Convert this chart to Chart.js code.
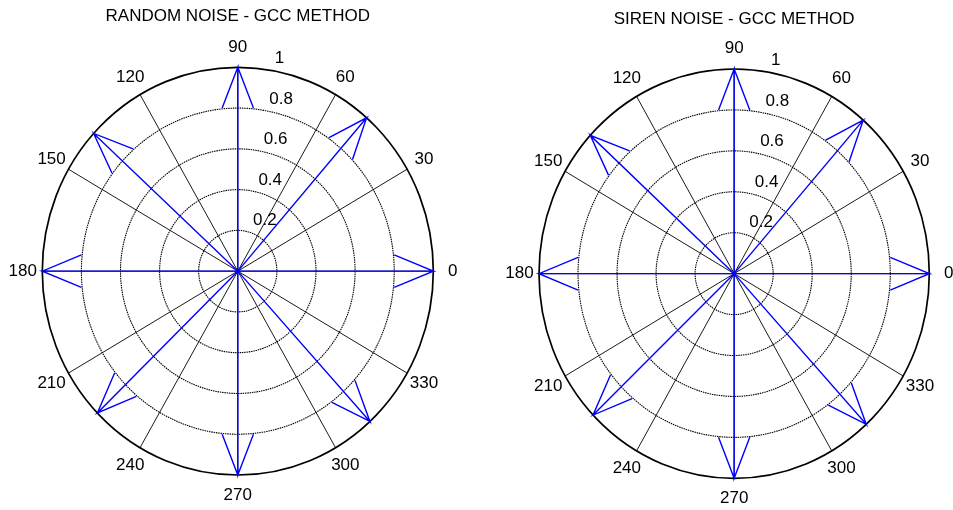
<!DOCTYPE html>
<html>
<head>
<meta charset="utf-8">
<title>GCC direction estimates</title>
<script src="https://cdn.jsdelivr.net/npm/chart.js@4.4.1/dist/chart.umd.min.js"></script>
<style>
  html, body { margin: 0; padding: 0; background: #fff; }
  #wrap { position: relative; width: 953px; height: 510px; overflow: hidden; }
  .pane { position: absolute; top: 0; height: 510px; }
</style>
</head>
<body>
<div id="wrap">
  <div class="pane" style="left:0;width:476px"><canvas id="randomChart" width="476" height="510"></canvas></div>
  <div class="pane" style="left:476px;width:477px"><canvas id="sirenChart" width="477" height="510"></canvas></div>
</div>
<script>
// Estimated arrival directions (degrees) and normalised magnitudes
const randomAngles = [0, 48.8, 90, 137.5, 180, 224.1, 270, 312.5];
const randomMagnitudes = [1, 1, 1, 1, 1, 1, 1, 1];
const sirenAngles = [0, 48.6, 90, 137.5, 180, 223.7, 270, 312.6];
const sirenMagnitudes = [1, 1, 1, 1, 1, 1, 1, 1];

// Polar axis ticks
const radialTicks = [0.2, 0.4, 0.6, 0.8, 1];
const angleTicks = [0, 30, 60, 90, 120, 150, 180, 210, 240, 270, 300, 330];

const FONT = '"Liberation Sans", Arial, Helvetica, sans-serif';
const DEG = Math.PI / 180;

// Compass-style arrows: shaft from origin, head barbs at 0.8 +/- 0.08i of the vector
function arrowPoints(angles, mags) {
  const head = [[0, 0], [1, 0], [0.8, 0.08], [1, 0], [0.8, -0.08]];
  const pts = [];
  angles.forEach((a, i) => {
    const c = mags[i] * Math.cos(a * DEG);
    const d = mags[i] * Math.sin(a * DEG);
    head.forEach(([p, q]) => pts.push({ x: p * c - q * d, y: p * d + q * c }));
    pts.push({ x: NaN, y: NaN });
  });
  return pts;
}

// Polar grid, spokes and labels drawn on the chart's own x/y scales
const polarGrid = {
  id: 'polarGrid',
  beforeDatasetsDraw(chart) {
    const { ctx, scales: { x, y } } = chart;
    const cx = x.getPixelForValue(0), cy = y.getPixelForValue(0);
    const rx = r => x.getPixelForValue(r) - cx;
    const ry = r => cy - y.getPixelForValue(r);
    ctx.save();
    ctx.fillStyle = '#fff';
    ctx.beginPath();
    ctx.ellipse(cx, cy, rx(1), ry(1), 0, 0, 2 * Math.PI);
    ctx.fill();
    // spokes
    ctx.strokeStyle = '#000';
    ctx.lineWidth = 0.9;
    ctx.setLineDash([]);
    angleTicks.forEach(a => {
      ctx.beginPath();
      ctx.moveTo(cx, cy);
      ctx.lineTo(x.getPixelForValue(Math.cos(a * DEG)), y.getPixelForValue(Math.sin(a * DEG)));
      ctx.stroke();
    });
    // dotted rings
    ctx.lineWidth = 1.1;
    ctx.setLineDash([1.5, 0.8]);
    radialTicks.slice(0, -1).forEach(r => {
      ctx.beginPath();
      ctx.ellipse(cx, cy, rx(r), ry(r), 0, 0, 2 * Math.PI);
      ctx.stroke();
    });
    // outer rim
    ctx.setLineDash([]);
    ctx.lineWidth = 1.7;
    ctx.beginPath();
    ctx.ellipse(cx, cy, rx(1), ry(1), 0, 0, 2 * Math.PI);
    ctx.stroke();
    ctx.restore();
  },
  afterDatasetsDraw(chart) {
    const { ctx, scales: { x, y } } = chart;
    ctx.save();
    ctx.fillStyle = '#000';
    ctx.font = '17px ' + FONT;
    // angle labels at 1.1 x rim
    ctx.textAlign = 'center';
    ctx.textBaseline = 'middle';
    angleTicks.forEach(a => {
      ctx.fillText(String(a),
        x.getPixelForValue(1.1 * Math.cos(a * DEG)),
        y.getPixelForValue(1.1 * Math.sin(a * DEG)));
    });
    // radial labels along the 82 degree ray
    ctx.textAlign = 'left';
    ctx.textBaseline = 'bottom';
    radialTicks.forEach(r => {
      const rr = r + 0.01;
      const label = r === 1 ? '1' : r.toFixed(1);
      ctx.fillText('  ' + label,
        x.getPixelForValue(rr * Math.cos(82 * DEG)),
        y.getPixelForValue(rr * Math.sin(82 * DEG)));
    });
    ctx.restore();
  }
};

function makeChart(id, title, angles, mags, pad, titlePad) {
  return new Chart(document.getElementById(id), {
    type: 'scatter',
    data: {
      datasets: [{
        data: arrowPoints(angles, mags),
        showLine: true,
        spanGaps: false,
        borderColor: '#0000ff',
        borderWidth: 1.4,
        pointRadius: 0,
        pointHoverRadius: 0,
        fill: false,
        tension: 0,
        clip: false
      }]
    },
    options: {
      responsive: false,
      animation: false,
      devicePixelRatio: 1,
      layout: { padding: pad },
      scales: {
        x: { type: 'linear', min: -1, max: 1, display: false },
        y: { type: 'linear', min: -1, max: 1, display: false }
      },
      plugins: {
        legend: { display: false },
        tooltip: { enabled: false },
        title: {
          display: true,
          text: title,
          color: '#000',
          font: { family: FONT, size: 17, weight: 'normal', lineHeight: 1.2 },
          padding: titlePad
        }
      }
    },
    plugins: [polarGrid]
  });
}

makeChart('randomChart', 'RANDOM NOISE - GCC METHOD', randomAngles, randomMagnitudes,
  { left: 42.3, right: 42.7, top: 0, bottom: 35 }, { top: 6.5, bottom: 40.4 });
makeChart('sirenChart', 'SIREN NOISE - GCC METHOD', sirenAngles, sirenMagnitudes,
  { left: 63, right: 23.7, top: 0, bottom: 31.7 }, { top: 9, bottom: 39.6 });
</script>
</body>
</html>
